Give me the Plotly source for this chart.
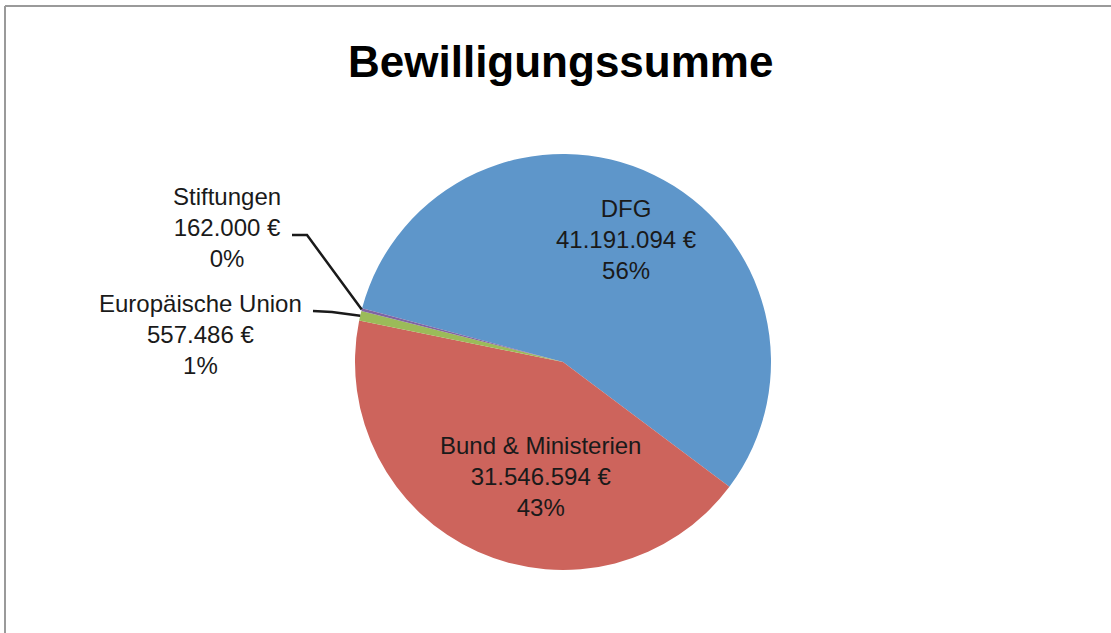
import math
import plotly.graph_objects as go

# ---- data ----
categories = ["DFG", "Bund & Ministerien", "Europäische Union", "Stiftungen"]
values = [41191094, 31546594, 557486, 162000]
colors = ["#5E96CA", "#CD645C", "#9BBB59", "#8064A2"]
title_text = "Bewilligungssumme"

# ---- layout geometry (pixels) ----
W, H = 1111, 633
cx, cy, R = 563, 362, 208
rotation = 285  # first slice start angle, clockwise from 12 o'clock

total = sum(values)


def fmt_eur(v):
    return f"{v:,}".replace(",", ".") + " €"


def label_text(i):
    pct = round(values[i] / total * 100)
    return f"{categories[i]}<br>{fmt_eur(values[i])}<br>{pct}%"


def px(x):
    return x / W


def py(y):
    return 1 - y / H


fig = go.Figure(
    go.Pie(
        labels=categories,
        values=values,
        sort=False,
        direction="clockwise",
        rotation=rotation,
        marker=dict(colors=colors, line=dict(width=0)),
        textinfo="none",
        hoverinfo="label+value+percent",
        showlegend=False,
        domain=dict(x=[px(cx - R), px(cx + R)], y=[py(cy + R), py(cy - R)]),
    )
)

# mid angles of the slices (compass degrees, clockwise from top)
mids = []
acc = 0
for v in values:
    mids.append(rotation + (acc + v / 2) / total * 360)
    acc += v


def edge_point(i):
    a = math.radians(mids[i])
    return cx + R * math.sin(a), cy - R * math.cos(a)


font = dict(family="Liberation Sans, Arial, sans-serif", size=24, color="#1a1a1a")

# label positions (pixel centres)
label_pos = {
    0: (627, 240),
    1: (540, 476),
    2: (200, 334),
    3: (227, 227),
}
annotations = []
for i, (lx, ly) in label_pos.items():
    annotations.append(
        dict(
            x=px(lx), y=py(ly), xref="paper", yref="paper",
            text=label_text(i), showarrow=False, font=font,
            xanchor="center", yanchor="middle", align="center",
        )
    )

annotations.append(
    dict(
        x=px(560), y=py(61), xref="paper", yref="paper",
        text=f"<b>{title_text}</b>", showarrow=False,
        font=dict(family="Liberation Sans, Arial, sans-serif", size=44, color="#000000"),
        xanchor="center", yanchor="middle",
    )
)

# leader lines for the outside labels
shapes = []
ex, ey = edge_point(3)
shapes.append(dict(type="path", xref="paper", yref="paper",
                   path=f"M {px(292)} {py(235)} L {px(307)} {py(235)} L {px(ex)} {py(ey)}",
                   line=dict(color="#1a1a1a", width=2.5)))
ex, ey = edge_point(2)
shapes.append(dict(type="path", xref="paper", yref="paper",
                   path=f"M {px(313)} {py(311)} L {px(332)} {py(312)} L {px(ex)} {py(ey)}",
                   line=dict(color="#1a1a1a", width=2.5)))

# chart frame (top and left edges visible)
shapes.append(dict(type="line", xref="paper", yref="paper",
                   x0=px(5), y0=py(6), x1=1, y1=py(6),
                   line=dict(color="#9a9a9a", width=2)))
shapes.append(dict(type="line", xref="paper", yref="paper",
                   x0=px(5), y0=py(6), x1=px(5), y1=0,
                   line=dict(color="#9a9a9a", width=2)))

fig.update_layout(
    width=W, height=H,
    margin=dict(l=0, r=0, t=0, b=0),
    paper_bgcolor="white",
    plot_bgcolor="white",
    annotations=annotations,
    shapes=shapes,
)

fig.write_html(
    "out.html",
    config={"displayModeBar": False},
    post_script="document.body.style.margin='0';document.body.style.padding='0';",
)
